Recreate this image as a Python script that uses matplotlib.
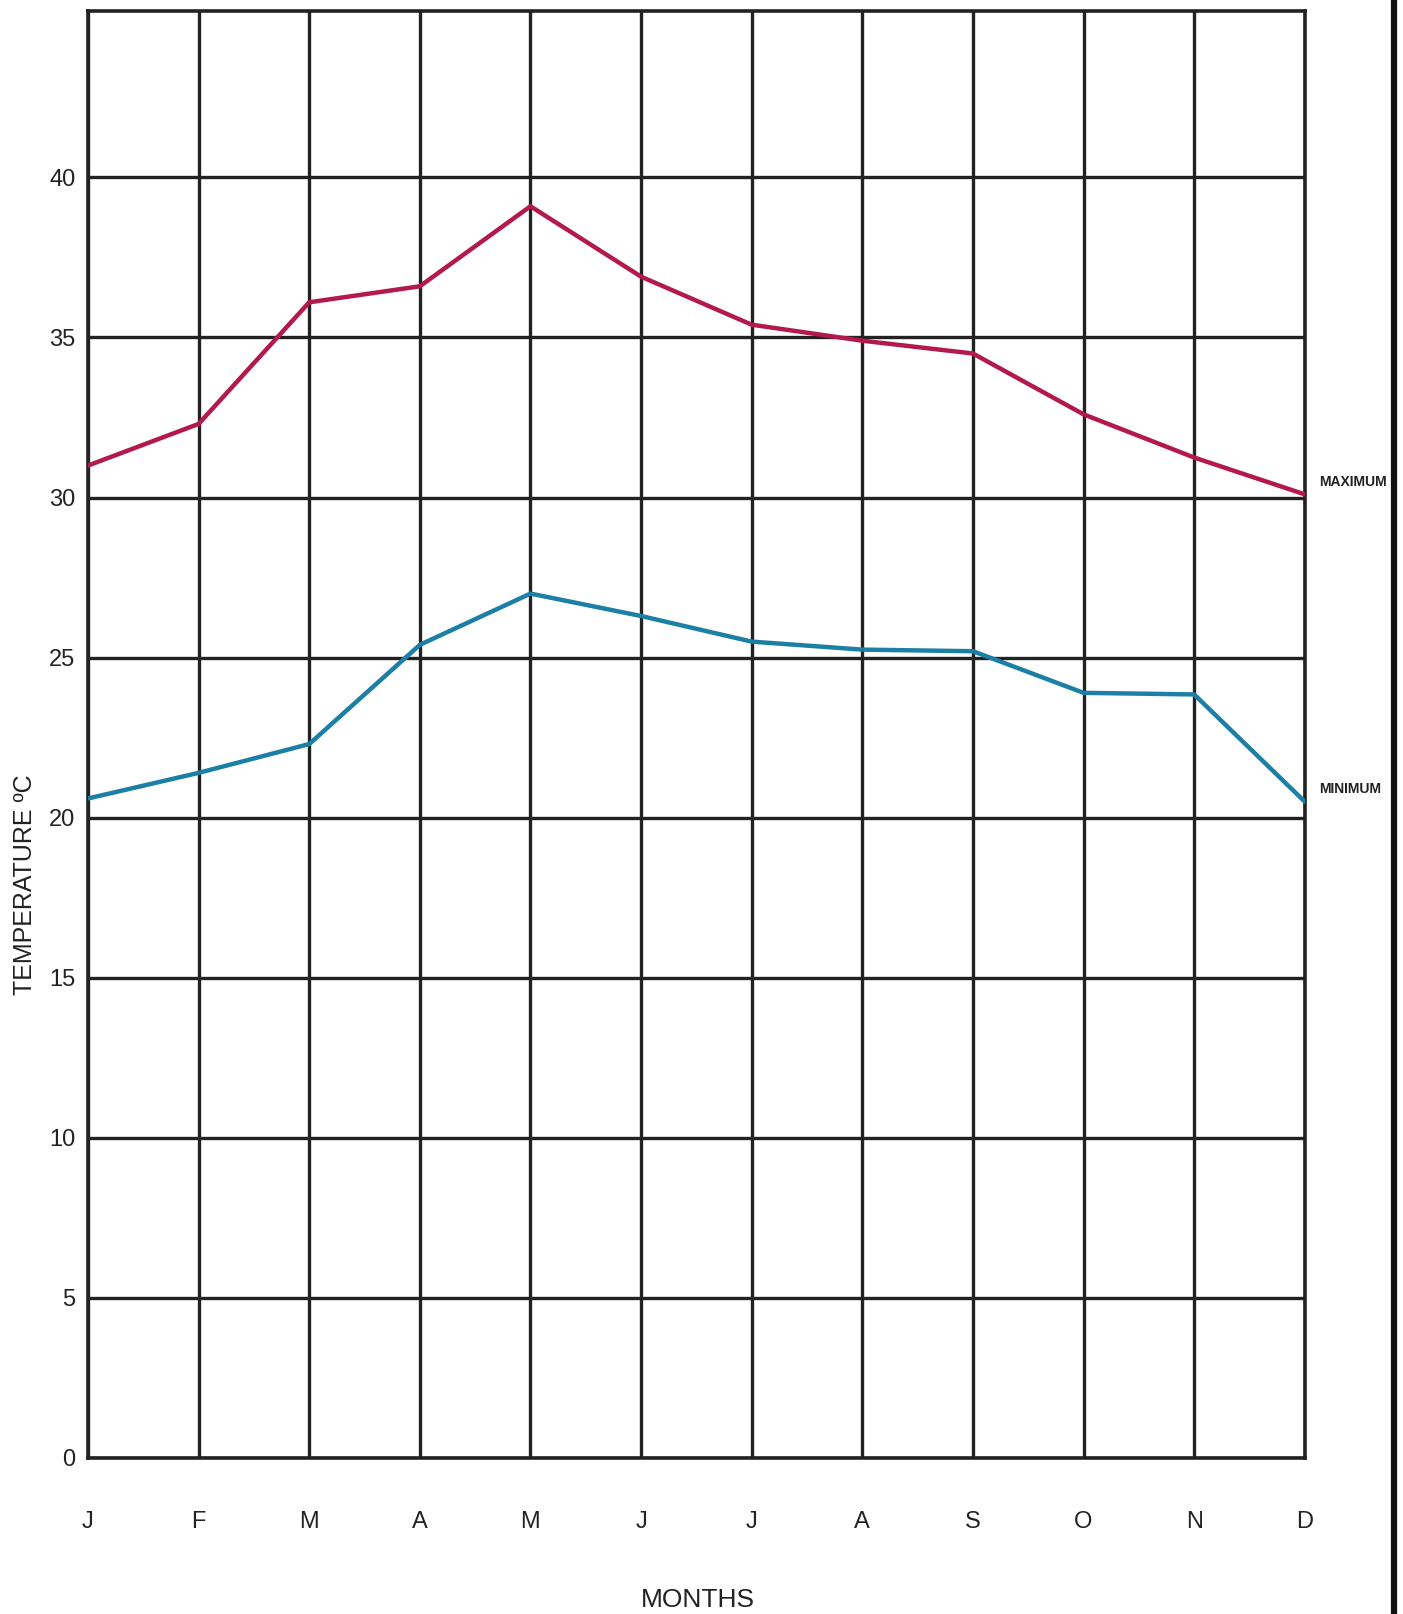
import matplotlib
matplotlib.use("Agg")
import matplotlib.pyplot as plt
from matplotlib.lines import Line2D

months = ["J", "F", "M", "A", "M", "J", "J", "A", "S", "O", "N", "D"]
maximum = [31.0, 32.3, 36.1, 36.6, 39.1, 36.9, 35.4, 34.9, 34.5, 32.6, 31.25, 30.1]
minimum = [20.6, 21.4, 22.3, 25.4, 27.0, 26.3, 25.5, 25.25, 25.2, 23.9, 23.85, 20.5]
yticks = [0, 5, 10, 15, 20, 25, 30, 35, 40]

plt.rcParams['font.family'] = ['Liberation Sans', 'DejaVu Sans']

fig = plt.figure(figsize=(14.03, 16.14), dpi=100)
ax = fig.add_axes([0.0627, 0.0967, 0.930 - 0.0627, 0.9932 - 0.0967])

x = list(range(len(months)))
ax.set_xlim(0, len(months) - 1)
ax.set_ylim(0, 45.2)

grid_color = "#222222"
for xi in x:
    ax.axvline(xi, color=grid_color, lw=2.4, zorder=1)
for yv in yticks:
    ax.axhline(yv, color=grid_color, lw=2.4, zorder=1)

ax.plot(x, maximum, color="#b3194f", lw=3.2, zorder=3, solid_capstyle="round")
ax.plot(x, minimum, color="#1c7fa6", lw=3.2, zorder=3, solid_capstyle="round")

for s in ax.spines.values():
    s.set_color(grid_color)
    s.set_linewidth(2.6)

ax.set_xticks(x)
ax.set_xticklabels(months, fontsize=17, color="#222222")
ax.set_yticks(yticks)
ax.set_yticklabels([str(v) for v in yticks], fontsize=17, color="#222222")
ax.tick_params(axis="x", length=0, pad=38)
ax.tick_params(axis="y", length=0, pad=9)

ax.text(1.012, maximum[-1] + 0.4, "MAXIMUM", transform=ax.get_yaxis_transform(),
        fontsize=10, va="center", ha="left", color="#222222", fontweight="bold")
ax.text(1.012, minimum[-1] + 0.4, "MINIMUM", transform=ax.get_yaxis_transform(),
        fontsize=10, va="center", ha="left", color="#222222", fontweight="bold")

fig.text(25 / 1403, 1 - 885 / 1614, "TEMPERATURE ºC", rotation=90, fontsize=18,
         ha="center", va="center", color="#222222")
fig.text(698 / 1403, 1 - 1600 / 1614, "MONTHS", fontsize=19,
         ha="center", va="center", color="#222222")

fig.add_artist(Line2D([1394 / 1403, 1394 / 1403], [0, 1], color="#111111", lw=4.5,
                      transform=fig.transFigure))

fig.savefig("out.png", dpi=100, facecolor="white")
